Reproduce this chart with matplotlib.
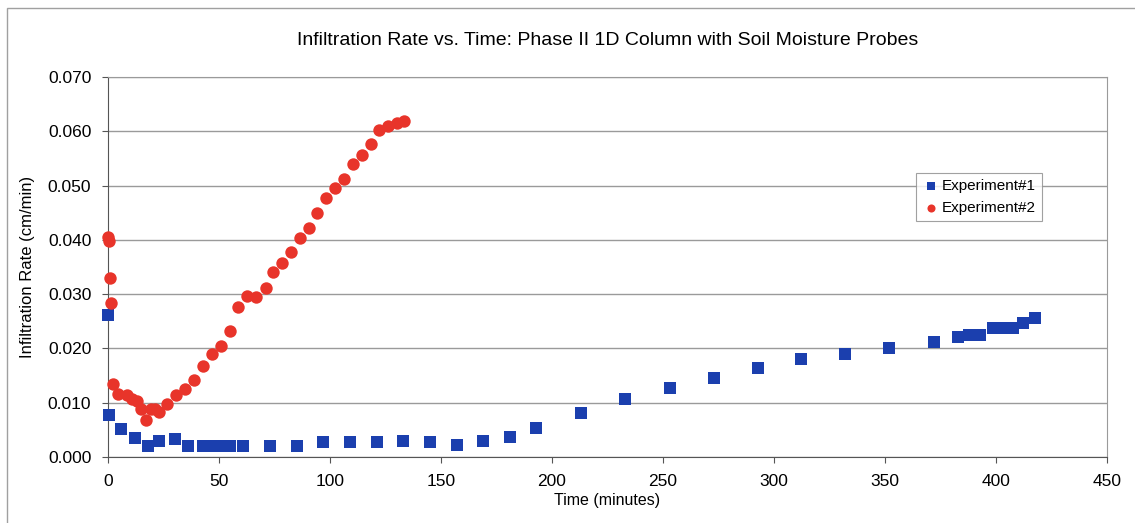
import matplotlib.pyplot as plt
from matplotlib.patches import Rectangle

plt.rcParams['font.family'] = ['Liberation Sans', 'DejaVu Sans']

# Experiment #1 (blue squares)
t1 = [0, 0.5, 6, 12, 18, 23, 30, 36, 43, 48, 51.5, 55, 61, 73, 85, 97, 109, 121,
      133, 145, 157, 169, 181, 193, 213, 233, 253, 273, 293, 312, 332, 352, 372,
      383, 388, 393, 398.5, 403, 407.5, 412, 417.5]
rate1 = [0.0262, 0.0078, 0.0052, 0.0035, 0.0020, 0.0030, 0.0033, 0.0021, 0.0021,
         0.0021, 0.0021, 0.0021, 0.0021, 0.0021, 0.0021, 0.0028, 0.0028, 0.0028,
         0.0030, 0.0028, 0.0022, 0.0030, 0.0036, 0.0054, 0.0081, 0.0107, 0.0128,
         0.0146, 0.0164, 0.0181, 0.0190, 0.0201, 0.0212, 0.0221, 0.0224, 0.0224,
         0.0238, 0.0238, 0.0238, 0.0247, 0.0256]

# Experiment #2 (red circles)
t2 = [0, 0.5, 1, 1.5, 2.3, 4.5, 8.6, 10.8, 13, 15, 17, 19.4, 21, 23, 26.6, 30.7,
      34.7, 38.8, 42.8, 46.9, 50.9, 55, 58.6, 62.7, 66.8, 71, 74.4, 78.4, 82.5,
      86.6, 90.6, 94.2, 98.3, 102.3, 106.4, 110.5, 114.5, 118.6, 122.2, 126.2,
      130.3, 133.5]
rate2 = [0.0405, 0.0398, 0.0329, 0.0283, 0.0135, 0.0116, 0.0115, 0.0107, 0.0103,
         0.0089, 0.0068, 0.0089, 0.0089, 0.0082, 0.0098, 0.0115, 0.0126, 0.0142,
         0.0168, 0.0189, 0.0205, 0.0233, 0.0277, 0.0296, 0.0294, 0.0312, 0.0340,
         0.0358, 0.0377, 0.0403, 0.0421, 0.0449, 0.0477, 0.0495, 0.0512, 0.0540,
         0.0556, 0.0577, 0.0603, 0.0610, 0.0616, 0.0619]

fig = plt.figure(figsize=(11.35, 5.23), dpi=100)
# outer chart-area border (only left and top edges show in the scan)
fig.patches.append(Rectangle((7 / 1135, -0.05), 1.1, 1 - 8 / 523 + 0.05,
                             transform=fig.transFigure, fill=False,
                             edgecolor='#a0a0a0', linewidth=1.0))
ax = fig.add_axes([108 / 1135, 1 - 457 / 523, 999 / 1135, 380 / 523])

ax.scatter(t1, rate1, marker='s', s=70, color='#1b3fae', linewidths=0,
           label='Experiment#1', zorder=3, clip_on=False)
ax.scatter(t2, rate2, marker='o', s=80, color='#e8342a', linewidths=0,
           label='Experiment#2', zorder=3, clip_on=False)

ax.set_xlim(0, 450)
ax.set_ylim(0, 0.070)
ax.set_xticks(range(0, 451, 50))
ax.set_yticks([i * 0.01 for i in range(8)])
ax.set_yticklabels([f"{i * 0.01:.3f}" for i in range(8)])
ax.yaxis.grid(True, color='#9a9a9a', linewidth=1.0)
ax.set_axisbelow(True)
for side in ['top', 'right']:
    ax.spines[side].set_color('#9a9a9a')
for side in ['left', 'bottom']:
    ax.spines[side].set_color('#555555')
ax.tick_params(axis='both', labelsize=12.5, direction='out', length=4,
               color='#555555', pad=8)

ax.set_xlabel('Time (minutes)', fontsize=11.5, labelpad=3)
ax.set_ylabel('Infiltration Rate (cm/min)', fontsize=12, labelpad=9)
ax.set_title('Infiltration Rate vs. Time: Phase II 1D Column with Soil Moisture Probes',
             fontsize=14, pad=23)

leg = ax.legend(loc='upper left', bbox_to_anchor=(808 / 999, 1 - 96 / 380),
                fontsize=11, frameon=True, fancybox=False, edgecolor='#8a8a8a',
                handletextpad=0.2, borderpad=0.4, labelspacing=0.5,
                markerscale=0.65, handlelength=1.1, borderaxespad=0)
leg.get_frame().set_linewidth(0.8)

fig.savefig('out.png', dpi=100)
